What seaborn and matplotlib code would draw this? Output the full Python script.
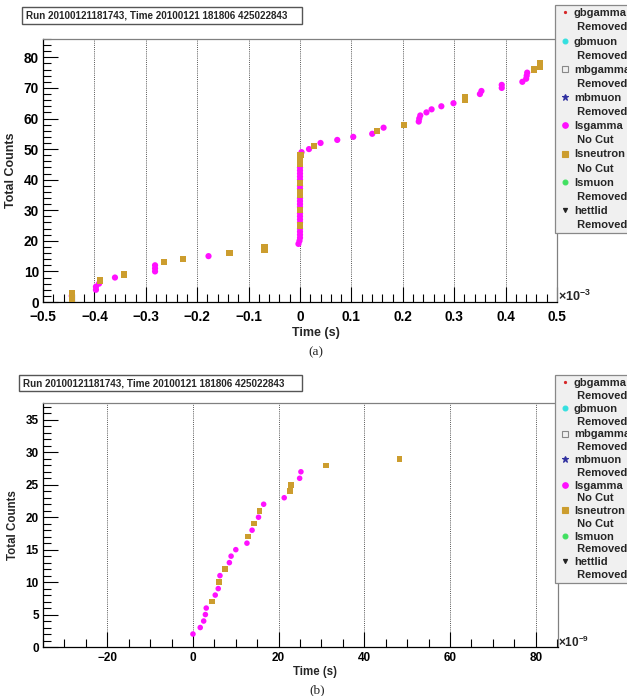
import matplotlib
matplotlib.use("Agg")
import matplotlib.pyplot as plt
from matplotlib.lines import Line2D
from matplotlib.ticker import MultipleLocator, FuncFormatter
import seaborn as sns
import pandas as pd

# ---------------- data ----------------
# panel (a): time in units of 1e-3 s
a_gamma_t = [-0.444, -0.397, -0.397, -0.391, -0.360, -0.282, -0.282, -0.282, -0.178,
             -0.003, -0.001, 0.0, 0.0, 0.0, 0.0,
             0.0, 0.0, 0.0, 0.0,
             0.0, 0.0, 0.0, 0.0,
             0.0, 0.0,
             0.0, 0.0, 0.0, 0.0, 0.0,
             0.003, 0.0175, 0.040, 0.0725, 0.1036, 0.1405, 0.1626, 0.231, 0.232, 0.234,
             0.246, 0.256, 0.275, 0.2986, 0.350, 0.353, 0.3925, 0.3925, 0.4326, 0.440,
             0.441, 0.442]
a_gamma_n = [2, 4, 5, 6, 8, 10, 11, 12, 15,
             19, 20, 21, 22, 23, 24,
             26, 27, 28, 29,
             31, 32, 33, 34,
             37, 38,
             40, 41, 42, 43, 44,
             49, 50, 52, 53, 54, 55, 57, 59, 60, 61,
             62, 63, 64, 65, 68, 69, 70, 71, 72, 73,
             74, 75]
a_neutron_t = [-0.444, -0.444, -0.389, -0.343, -0.264, -0.228, -0.137, -0.069, -0.069,
               0.0, 0.0, 0.0, 0.0, 0.0, 0.0, 0.0, 0.0, 0.001,
               0.027, 0.150, 0.2027, 0.3206, 0.3206, 0.455, 0.4676, 0.4676]
a_neutron_n = [1, 3, 7, 9, 13, 14, 16, 17, 18,
               25, 30, 35, 36, 39, 45, 46, 47, 48,
               51, 56, 58, 66, 67, 76, 77, 78]

# panel (b): time in units of 1e-9 s
b_gamma_t = [0.0, 1.7, 2.5, 2.9, 3.1, 5.2, 5.9, 6.3, 8.5, 8.9, 10.0, 12.6, 13.8, 15.3,
             16.5, 21.3, 24.9, 25.2]
b_gamma_n = [2, 3, 4, 5, 6, 8, 9, 11, 13, 14, 15, 16, 18, 20, 22, 23, 26, 27]
b_neutron_t = [4.5, 6.1, 7.5, 12.9, 14.2, 15.5, 22.6, 22.9, 31.0, 48.2]
b_neutron_n = [7, 10, 12, 17, 19, 21, 24, 25, 28, 29]

title_text = "Run 20100121181743, Time 20100121 181806 425022843"
legend_names = ["gbgamma", "gbmuon", "mbgamma", "mbmuon", "lsgamma", "lsneutron", "lsmuon", "hettlid"]
legend_status = ["Removed", "Removed", "Removed", "Removed", "No Cut", "No Cut", "Removed", "Removed"]

# ---------------- style ----------------
sns.set_style("white")
plt.rcParams["font.family"] = ["Liberation Sans", "DejaVu Sans"]
plt.rcParams["font.weight"] = "bold"
plt.rcParams["mathtext.fontset"] = "custom"
plt.rcParams["mathtext.rm"] = "Liberation Sans:bold"
plt.rcParams["mathtext.bf"] = "Liberation Sans:bold"

MAG = "#ff10ff"
GOLD = "#cc9d2e"
palette = {"lsgamma": MAG, "lsneutron": GOLD}
markers = {"lsgamma": "o", "lsneutron": "s"}

W, H = 627, 696
fig = plt.figure(figsize=(W / 100, H / 100), dpi=100)


def px_axes(l, t, r, b):
    return fig.add_axes([l / W, 1 - b / H, (r - l) / W, (b - t) / H])


def make_df(gt, gn, nt, nn):
    return pd.DataFrame({
        "t": list(gt) + list(nt),
        "n": list(gn) + list(nn),
        "type": ["lsgamma"] * len(gt) + ["lsneutron"] * len(nt),
    })


def fmt_g(v, pos):
    s = "%g" % round(v, 6)
    return s.replace("-", "\u2212")


def style_axes(ax, xlim, ylim, xmaj, xmin, ymaj, ymin, fs, xpad, labfs, xlab_x, xlab_y):
    ax.set_xlim(*xlim)
    ax.set_ylim(*ylim)
    ax.xaxis.set_major_locator(MultipleLocator(xmaj))
    ax.xaxis.set_minor_locator(MultipleLocator(xmin))
    ax.xaxis.set_major_formatter(FuncFormatter(fmt_g))
    ax.yaxis.set_major_locator(MultipleLocator(ymaj))
    ax.yaxis.set_minor_locator(MultipleLocator(ymin))
    ax.tick_params(which="both", direction="in", top=False, right=False,
                   left=True, bottom=True, labelsize=fs, colors="black")
    ax.tick_params(which="major", length=11, width=0.8)
    ax.tick_params(which="minor", length=5.5, width=0.8)
    ax.tick_params(axis="x", which="major", pad=xpad)
    ax.tick_params(axis="y", which="major", pad=3)
    ax.grid(axis="x", which="major", linestyle=(0, (1, 1.2)), color="#555555", linewidth=0.7)
    ax.grid(axis="y", visible=False)
    ax.spines["left"].set_color("black")
    ax.spines["bottom"].set_color("black")
    ax.spines["top"].set_color("#808080")
    ax.spines["right"].set_color("#808080")
    for s in ax.spines.values():
        s.set_linewidth(0.9)
    ax.set_xlabel("Time (s)", fontsize=labfs, fontweight="bold")
    ax.set_ylabel("Total Counts", fontsize=labfs, fontweight="bold", labelpad=5)
    ax.xaxis.set_label_coords(xlab_x, xlab_y)
    ax.xaxis.label.set_va("center")


def title_box(l, t, r, b):
    fig.patches.append(plt.Rectangle((l / W, 1 - b / H), (r - l) / W, (b - t) / H,
                                     transform=fig.transFigure, facecolor="white",
                                     edgecolor="#555555", linewidth=1.0))
    fig.text((l + 4) / W, 1 - (t + b) / 2 / H, title_text, fontsize=7.1, fontweight="bold",
             ha="left", va="center")


def legend_at(top_px, spacing):
    handles = []
    labels = []
    specs = [
        dict(marker=".", color="#d62728", markersize=3),
        dict(marker="o", color="#33e0e0", markersize=3.5),
        dict(marker="s", color="#888888", markerfacecolor="none", markersize=4.5),
        dict(marker="*", color="#3030a0", markersize=5),
        dict(marker="o", color=MAG, markersize=4),
        dict(marker="s", color=GOLD, markersize=4),
        dict(marker="o", color="#40e060", markersize=3.5),
        dict(marker="v", color="#222222", markersize=3),
    ]
    for name, status, sp in zip(legend_names, legend_status, specs):
        handles.append(Line2D([], [], linestyle="none", markeredgewidth=0.8, **sp))
        labels.append(name)
        handles.append(Line2D([], [], linestyle="none", marker=""))
        labels.append(" " + status)
    leg = fig.legend(handles, labels, loc="upper left",
                     bbox_to_anchor=(555 / W, 1 - top_px / H),
                     fontsize=8, frameon=True, fancybox=False, framealpha=1,
                     facecolor="#f0f0f0", edgecolor="#888888",
                     handlelength=1.25, handletextpad=0.15, labelspacing=spacing,
                     borderpad=0.3, borderaxespad=0)
    leg.get_frame().set_linewidth(0.9)
    for txt in leg.get_texts():
        txt.set_fontweight("bold")
    return leg


# ---------------- panel (a) ----------------
ax_a = px_axes(43, 39, 557, 302)
df_a = make_df(a_gamma_t, a_gamma_n, a_neutron_t, a_neutron_n)
sns.scatterplot(data=df_a, x="t", y="n", hue="type", style="type", palette=palette,
                markers=markers, s=20, linewidth=0, legend=False, ax=ax_a, zorder=3)
style_axes(ax_a, (-0.5, 0.5), (0, 86), 0.1, 0.02, 10, 2, fs=9.8, xpad=5.8, labfs=9,
           xlab_x=0.531, xlab_y=-0.118)
title_box(22, 7, 302, 24)
legend_at(5, 0.37)
fig.text(558 / W, 1 - 296 / H, r"$\times$10$^{-3}$", fontsize=9, ha="left", va="center")
fig.text(316 / W, 1 - 352 / H, "(a)", family="Liberation Serif", fontweight="normal",
         fontsize=9.5, ha="center", va="center")

# ---------------- panel (b) ----------------
ax_b = px_axes(43, 403, 558, 647)
df_b = make_df(b_gamma_t, b_gamma_n, b_neutron_t, b_neutron_n)
sns.scatterplot(data=df_b, x="t", y="n", hue="type", style="type", palette=palette,
                markers=markers, s=16, linewidth=0, legend=False, ax=ax_b, zorder=3)
style_axes(ax_b, (-35, 85.2), (0, 37.6), 20, 5, 5, 1, fs=8.5, xpad=3.5, labfs=8.3,
           xlab_x=0.528, xlab_y=-0.1025)
title_box(19, 375, 302, 391)
legend_at(375, 0.25)
fig.text(558 / W, 1 - 642 / H, r"$\times$10$^{-9}$", fontsize=8.5, ha="left", va="center")
fig.text(317 / W, 1 - 690 / H, "(b)", family="Liberation Serif", fontweight="normal",
         fontsize=9.5, ha="center", va="center")

fig.savefig("out.png", dpi=100)
